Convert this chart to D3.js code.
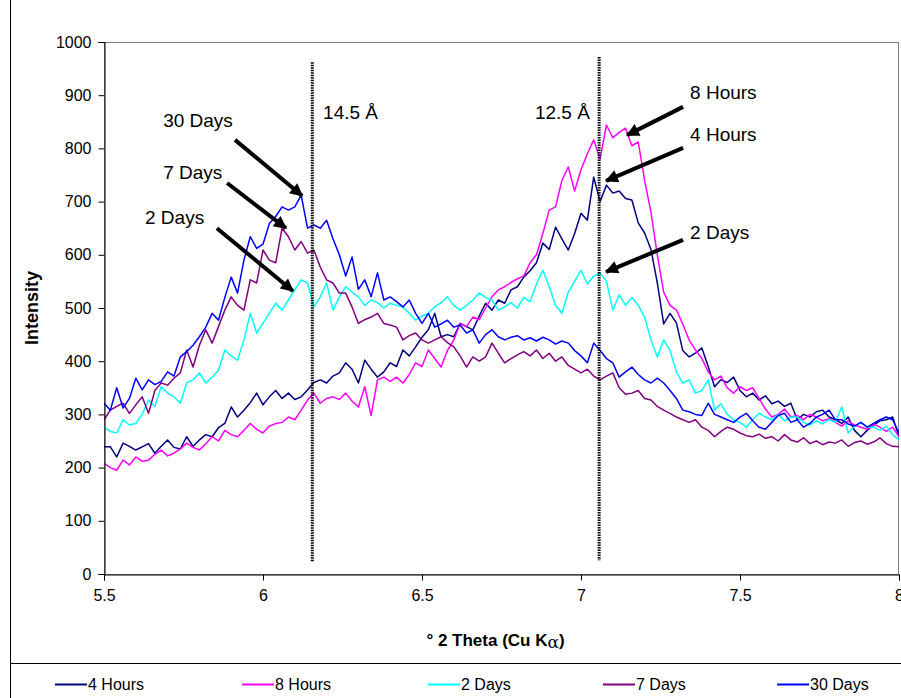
<!DOCTYPE html>
<html>
<head>
<meta charset="utf-8">
<script src="https://cdn.jsdelivr.net/npm/d3@7"></script>
<style>
  html, body { margin: 0; padding: 0; background: #fff; }
  svg { display: block; font-family: "Liberation Sans", Arial, sans-serif; }
</style>
</head>
<body>
<svg id="chart" width="901" height="698"></svg>
<script>
// Scan grid (degrees 2θ)
const thetaStart = 5.5;
const thetaStep = 0.02;

// Intensity per scan step, one array per ageing time
const hours4 = [
  239, 239, 220, 246, 240, 233, 239, 245, 227, 240,
  252, 238, 235, 258, 240, 252, 262, 258, 275, 283,
  314, 295, 308, 322, 340, 318, 333, 345, 330, 340,
  328, 333, 346, 360, 365, 359, 372, 378, 397, 385,
  359, 402, 385, 370, 380, 397, 390, 421, 410, 427,
  445, 459, 490, 446, 450, 446, 471, 465, 459, 485,
  509, 496, 515, 509, 534, 540, 558, 570, 585, 622,
  610, 652, 630, 609, 640, 678, 665, 746, 700, 731,
  716, 720, 706, 703, 660, 641, 610, 547, 470, 490,
  472, 420, 408, 415, 425, 390, 352, 365, 360, 370,
  345, 333, 340, 327, 335, 320, 325, 315, 321, 290,
  300, 295, 305, 308, 295, 290, 283, 295, 270, 258,
  270, 280, 288, 290, 295, 258
];
const hours8 = [
  208, 200, 195, 214, 205, 220, 212, 214, 225, 233,
  222, 227, 235, 246, 238, 233, 245, 258, 250, 270,
  262, 258, 270, 283, 272, 265, 278, 283, 285, 295,
  290, 308, 327, 340, 321, 330, 333, 328, 340, 325,
  314, 352, 298, 365, 370, 362, 370, 359, 375, 397,
  390, 421, 405, 389, 420, 440, 471, 465, 483, 478,
  500, 521, 534, 540, 548, 555, 560, 585, 600, 640,
  684, 690, 740, 765, 720, 760, 790, 816, 780, 844,
  820, 830, 838, 805, 812, 740, 680, 600, 530, 505,
  496, 470, 440, 421, 405, 380, 365, 372, 350, 340,
  352, 345, 350, 330, 310, 295, 300, 310, 295, 298,
  290, 300, 295, 288, 292, 285, 278, 288, 280, 276,
  272, 282, 276, 268, 276, 258
];
const days2 = [
  276, 268, 265, 290, 280, 283, 300, 327, 315, 352,
  340, 333, 321, 359, 365, 378, 359, 370, 383, 421,
  410, 402, 440, 490, 453, 471, 490, 509, 496, 515,
  534, 553, 547, 502, 521, 547, 496, 521, 540, 530,
  521, 505, 515, 510, 500, 509, 505, 502, 490, 477,
  485, 490, 502, 510, 521, 505, 496, 505, 515, 528,
  520, 515, 496, 502, 510, 500, 520, 512, 545, 571,
  540, 505, 490, 530, 550, 571, 545, 560, 566, 550,
  496, 525, 505, 520, 505, 483, 440, 408, 440, 420,
  380, 359, 365, 340, 345, 365, 308, 320, 300, 290,
  285, 276, 290, 302, 295, 290, 300, 288, 295, 295,
  285, 280, 288, 282, 290, 285, 314, 265, 278, 285,
  276, 276, 270, 278, 262, 252
];
const days7 = [
  290, 308, 315, 321, 302, 318, 333, 302, 345, 359,
  355, 368, 378, 421, 389, 430, 459, 434, 465, 496,
  521, 505, 496, 553, 547, 609, 590, 585, 650, 634,
  609, 625, 603, 609, 577, 553, 547, 528, 528, 502,
  471, 478, 483, 490, 471, 468, 464, 440, 448, 453,
  440, 434, 440, 446, 435, 427, 410, 389, 408, 400,
  408, 434, 415, 397, 405, 412, 418, 410, 421, 405,
  415, 400, 408, 392, 385, 378, 385, 372, 365, 372,
  378, 350, 338, 340, 345, 330, 327, 315, 308, 302,
  295, 290, 285, 290, 276, 270, 258, 268, 276, 272,
  265, 260, 258, 263, 255, 258, 250, 262, 252, 248,
  256, 245, 250, 243, 248, 246, 252, 240, 247, 250,
  244, 248, 256, 245, 240, 239
];
const days30 = [
  321, 308, 350, 312, 330, 368, 346, 365, 356, 362,
  380, 372, 408, 418, 430, 446, 464, 490, 477, 520,
  558, 528, 590, 634, 612, 620, 659, 672, 690, 684,
  690, 712, 650, 656, 650, 665, 630, 600, 560, 596,
  535, 553, 521, 566, 515, 521, 512, 502, 515, 490,
  471, 490, 464, 470, 477, 464, 468, 453, 459, 434,
  450, 459, 446, 440, 445, 448, 440, 444, 438, 445,
  440, 432, 438, 434, 420, 410, 397, 434, 420, 405,
  397, 370, 380, 389, 375, 365, 359, 368, 359, 345,
  330, 308, 305, 300, 298, 321, 300, 295, 290, 285,
  295, 302, 288, 276, 272, 285, 298, 302, 285, 290,
  276, 283, 295, 300, 308, 290, 290, 282, 278, 285,
  276, 283, 290, 295, 290, 265
];

const seriesNames  = ["4 Hours", "8 Hours", "2 Days", "7 Days", "30 Days"];
const seriesValues = [hours4, hours8, days2, days7, days30];
const seriesColors = ["#000080", "#FF00FF", "#00FFFF", "#800080", "#0000FF"];

const xTicks = [5.5, 6, 6.5, 7, 7.5, 8];
const xTickLabels = ["5.5", "6", "6.5", "7", "7.5", "8"];
const yTicks = [0, 100, 200, 300, 400, 500, 600, 700, 800, 900, 1000];

// Basal spacing markers: position (2θ), vertical extent (intensity units), label anchor
const spacingLabels = ["14.5 Å", "12.5 Å"];
const spacingTheta  = [6.155, 7.057];
const spacingTop    = [962, 972];
const spacingBottom = [22, 26];
const spacingLabelTheta = [6.189, 7.028];
const spacingLabelValue = [855, 855];
const spacingLabelAnchor = ["start", "end"];

// Callout arrows: label, label anchor point, arrow tail and head (2θ, intensity)
const calloutText   = ["30 Days", "7 Days", "2 Days", "8 Hours", "4 Hours", "2 Days"];
const calloutLabelX = [5.686, 5.686, 5.629, 7.343, 7.343, 7.343];
const calloutLabelY = [840, 742, 658, 893, 814, 630];
const calloutTailX  = [5.912, 5.887, 5.855, 7.321, 7.321, 7.321];
const calloutTailY  = [816, 735, 650, 878, 801, 628];
const calloutHeadX  = [6.123, 6.072, 6.094, 7.145, 7.079, 7.079];
const calloutHeadY  = [711, 650, 532, 825, 739, 568];

const svg = d3.select("#chart");
const W = 901, H = 698;
const plot = { left: 104, right: 899, top: 42, bottom: 574 };

const x = d3.scaleLinear().domain([5.5, 8]).range([plot.left, plot.right]);
const y = d3.scaleLinear().domain([0, 1000]).range([plot.bottom, plot.top]);

// Outer chart frame and legend divider
svg.append("line").attr("x1", 10.5).attr("x2", 10.5).attr("y1", 0).attr("y2", H)
  .attr("stroke", "#000").attr("stroke-width", 1);
svg.append("line").attr("x1", 10).attr("x2", W).attr("y1", 663.5).attr("y2", 663.5)
  .attr("stroke", "#000").attr("stroke-width", 1);

// Plot area border
svg.append("rect")
  .attr("x", plot.left + 0.5).attr("y", plot.top + 0.5)
  .attr("width", plot.right - plot.left - 1).attr("height", plot.bottom - plot.top)
  .attr("fill", "none").attr("stroke", "#808080").attr("stroke-width", 1);

// Series
const line = d3.line()
  .x((d, i) => x(thetaStart + i * thetaStep))
  .y(d => y(d));

svg.append("clipPath").attr("id", "plotClip")
  .append("rect").attr("x", plot.left).attr("y", plot.top)
  .attr("width", plot.right - plot.left).attr("height", plot.bottom - plot.top);

svg.append("g").attr("clip-path", "url(#plotClip)")
  .selectAll("path.series")
  .data(seriesValues)
  .join("path")
  .attr("class", "series")
  .attr("d", d => line(d))
  .attr("fill", "none")
  .attr("stroke", (d, i) => seriesColors[i])
  .attr("stroke-width", 1.5)
  .attr("stroke-linejoin", "round");

// Axes
const yAxis = d3.axisLeft(y).tickValues(yTicks).tickSize(6).tickPadding(7).tickFormat(d3.format("d"));
const gy = svg.append("g").attr("transform", `translate(${plot.left + 0.5},0)`).call(yAxis);
gy.select(".domain").attr("stroke", "#000");
gy.selectAll(".tick line").attr("stroke", "#000");
gy.selectAll(".tick text").attr("font-size", 16).attr("fill", "#000")
  .attr("font-family", "'Liberation Sans', Arial, sans-serif");

const xAxis = d3.axisBottom(x).tickValues(xTicks).tickSize(6).tickPadding(9)
  .tickFormat((d, i) => xTickLabels[i]);
const gx = svg.append("g").attr("transform", `translate(0,${plot.bottom + 0.5})`).call(xAxis);
gx.select(".domain").attr("stroke", "#000");
gx.selectAll(".tick line").attr("stroke", "#000");
gx.selectAll(".tick text").attr("font-size", 16).attr("fill", "#000")
  .attr("font-family", "'Liberation Sans', Arial, sans-serif");

// Axis titles
svg.append("text")
  .attr("transform", `translate(38,${(plot.top + plot.bottom) / 2}) rotate(-90)`)
  .attr("text-anchor", "middle")
  .attr("font-size", 18).attr("font-weight", "bold")
  .text("Intensity");

const xt = svg.append("text")
  .attr("x", (plot.left + plot.right) / 2 - 6).attr("y", 646)
  .attr("text-anchor", "middle")
  .attr("font-size", 17).attr("font-weight", "bold");
xt.append("tspan").text("° 2 Theta (Cu K");
xt.append("tspan").attr("font-family", "'DejaVu Serif', serif").attr("font-weight", "normal")
  .attr("dy", 2).text("α");
xt.append("tspan").attr("dy", -2).text(")");

// Spacing markers (dotted verticals)
const spacing = svg.append("g");
spacingTheta.forEach((t, i) => {
  spacing.append("line")
    .attr("x1", x(t)).attr("x2", x(t))
    .attr("y1", y(spacingTop[i])).attr("y2", y(spacingBottom[i]))
    .attr("stroke", "#000").attr("stroke-width", 3)
    .attr("stroke-dasharray", "1.5,1");
  spacing.append("text")
    .attr("x", x(spacingLabelTheta[i])).attr("y", y(spacingLabelValue[i]))
    .attr("text-anchor", spacingLabelAnchor[i])
    .attr("font-size", 19)
    .text(spacingLabels[i]);
});

// Callout arrows
const defs = svg.append("defs");
defs.append("marker")
  .attr("id", "arrowHead")
  .attr("viewBox", "0 0 10 10")
  .attr("refX", 9).attr("refY", 5)
  .attr("markerUnits", "userSpaceOnUse")
  .attr("markerWidth", 15).attr("markerHeight", 13)
  .attr("orient", "auto")
  .append("path").attr("d", "M0,0 L10,5 L0,10 Z").attr("fill", "#000");

const callouts = svg.append("g");
calloutText.forEach((t, i) => {
  callouts.append("line")
    .attr("x1", x(calloutTailX[i])).attr("y1", y(calloutTailY[i]))
    .attr("x2", x(calloutHeadX[i])).attr("y2", y(calloutHeadY[i]))
    .attr("stroke", "#000").attr("stroke-width", 4)
    .attr("marker-end", "url(#arrowHead)");
  callouts.append("text")
    .attr("x", x(calloutLabelX[i])).attr("y", y(calloutLabelY[i]))
    .attr("font-size", 19)
    .text(t);
});

// Legend
const legendKeyX  = [55, 242, 428, 603, 777];
const legend = svg.append("g");
seriesNames.forEach((name, i) => {
  legend.append("line")
    .attr("x1", legendKeyX[i]).attr("x2", legendKeyX[i] + 32)
    .attr("y1", 684.5).attr("y2", 684.5)
    .attr("stroke", seriesColors[i]).attr("stroke-width", 2);
  legend.append("text")
    .attr("x", legendKeyX[i] + 33).attr("y", 690)
    .attr("font-size", 16)
    .text(name);
});
</script>
</body>
</html>
